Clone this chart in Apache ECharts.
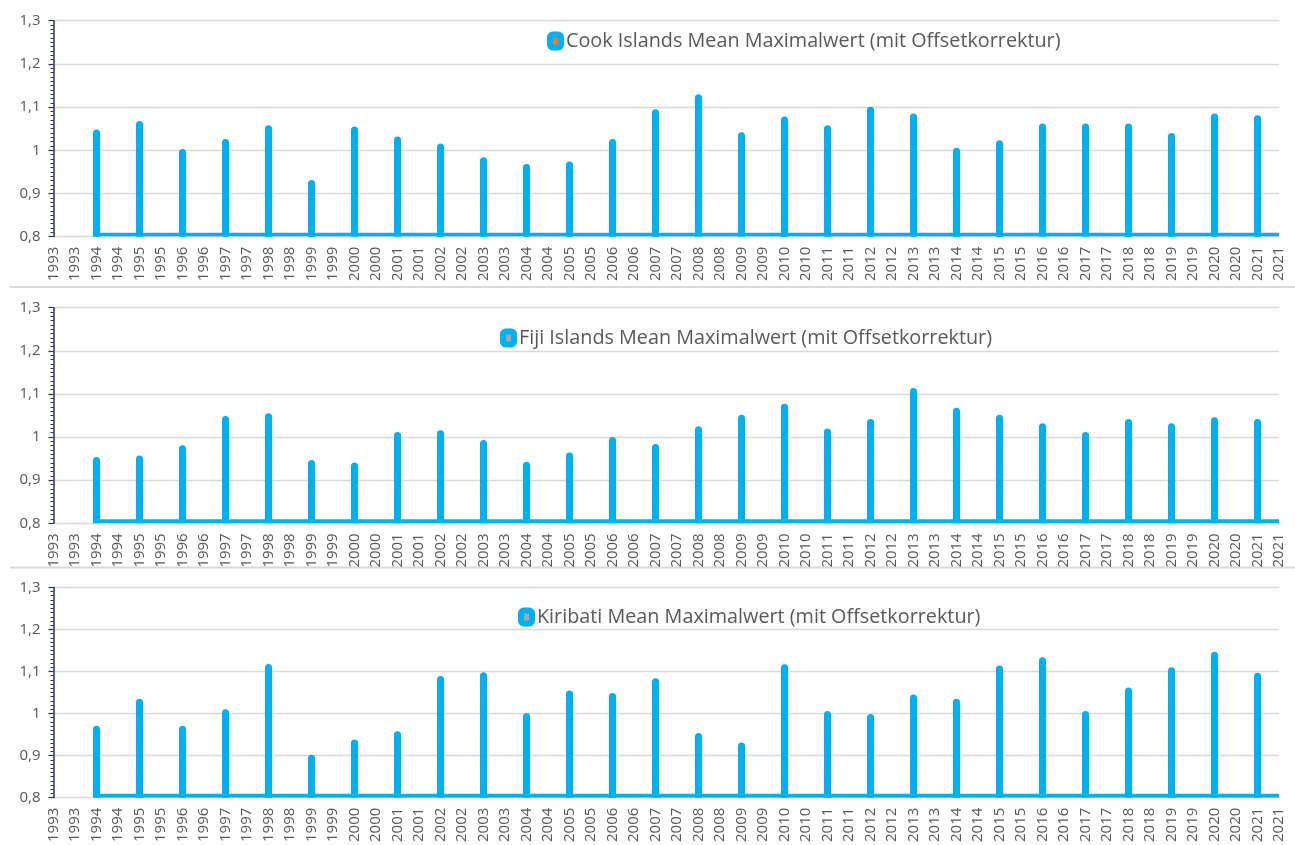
<!DOCTYPE html>
<html><head><meta charset="utf-8">
<script src="https://cdn.jsdelivr.net/npm/echarts@6/dist/echarts.min.js"></script>
<style>html,body{margin:0;padding:0;background:#fff}#c{width:1295px;height:845px}</style>
</head><body><div id="c"></div>
<script>
// x-axis tick labels (two per year, as in the source sheet)
const categories = ['1993','1993','1994','1994','1995','1995','1996','1996','1997','1997','1998','1998','1999','1999',
  '2000','2000','2001','2001','2002','2002','2003','2003','2004','2004','2005','2005','2006','2006','2007','2007',
  '2008','2008','2009','2009','2010','2010','2011','2011','2012','2012','2013','2013','2014','2014','2015','2015',
  '2016','2016','2017','2017','2018','2018','2019','2019','2020','2020','2021','2021'];
const years = [1994,1995,1996,1997,1998,1999,2000,2001,2002,2003,2004,2005,2006,2007,2008,2009,2010,2011,2012,2013,2014,2015,2016,2017,2018,2019,2020,2021];
const cookValues = [1.048,1.068,1.003,1.026,1.058,0.931,1.055,1.032,1.016,0.984,0.968,0.974,1.026,1.095,1.130,1.042,1.078,1.058,1.101,1.085,1.006,1.023,1.062,1.062,1.062,1.040,1.085,1.081];
const fijiValues = [0.954,0.957,0.981,1.049,1.055,0.947,0.941,1.012,1.016,0.993,0.943,0.964,1.000,0.984,1.025,1.052,1.077,1.020,1.042,1.114,1.068,1.052,1.032,1.012,1.042,1.032,1.046,1.042];
const kiribatiValues = [0.971,1.035,0.971,1.010,1.118,0.902,0.938,0.958,1.089,1.098,1.001,1.055,1.049,1.084,0.954,0.931,1.117,1.006,0.999,1.045,1.035,1.114,1.134,1.006,1.062,1.110,1.147,1.097];
const baselineValue = 0.805;
const seriesNames = ['Cook Islands Mean Maximalwert (mit Offsetkorrektur)','Fiji Islands Mean Maximalwert (mit Offsetkorrektur)','Kiribati Mean Maximalwert (mit Offsetkorrektur)'];
const panelValues = [cookValues, fijiValues, kiribatiValues];

const BLUE = '#00B0F0';
const markerCenter = ['#ED7D31', '#A6A6A6', '#A6A6A6'];
const gridTops = [20.7, 307.7, 587.3];
const gridH = [216, 215.6, 216];
const legendPos = [[547, 30], [500, 327], [518, 606]];

function spikeData(vals) {
  const d = categories.map(() => '-');
  years.forEach((y, i) => { d[categories.indexOf(String(y))] = vals[i]; });
  return d;
}
function baseData() {
  const start = categories.indexOf(String(years[0]));
  return categories.map((c, i) => i >= start ? baselineValue : '-');
}

const grids = [], xAxes = [], yAxes = [], series = [], legends = [];
for (let p = 0; p < 3; p++) {
  grids.push({ left: 53.5, right: 16, top: gridTops[p], height: gridH[p], containLabel: false });
  xAxes.push({
    type: 'category', gridIndex: p, data: categories, boundaryGap: false,
    axisLine: { show: false }, axisTick: { show: false }, splitLine: { show: false },
    axisLabel: { interval: 0, rotate: 90, color: '#595959', fontSize: 15, fontFamily: 'Open Sans', margin: 10,
      padding: [7, 0, 0, 0] }
  });
  yAxes.push({
    type: 'value', gridIndex: p, min: 0.8, max: 1.3, interval: 0.1,
    axisLine: { show: true, lineStyle: { color: '#24375E', width: 1.5 } },
    axisTick: { show: true, length: 5, lineStyle: { color: '#24375E', width: 1.2 } },
    minorTick: { show: true, splitNumber: 10, length: 3, lineStyle: { color: '#24375E', width: 1 } },
    splitLine: { show: true, lineStyle: { color: '#D9D9D9', width: 1.3 } },
    axisLabel: { color: '#595959', fontSize: 15, fontFamily: 'Open Sans', margin: 13,
      formatter: v => String(Math.round(v * 10) / 10).replace('.', ',') }
  });
  series.push({
    name: seriesNames[p] + ' baseline', type: 'line', xAxisIndex: p, yAxisIndex: p,
    data: baseData(), symbol: 'none', silent: true, z: 2,
    lineStyle: { color: BLUE, width: 3.6, cap: 'butt' }
  });
  series.push({
    name: seriesNames[p], type: 'bar', xAxisIndex: p, yAxisIndex: p,
    data: spikeData(panelValues[p]), barWidth: 7, z: 3,
    itemStyle: { color: BLUE, borderRadius: [3.5, 3.5, 0, 0] }
  });
  legends.push({
    data: [seriesNames[p]], left: legendPos[p][0], top: legendPos[p][1], padding: 0,
    selectedMode: false, icon: 'roundRect', itemWidth: 11, itemHeight: 13,
    itemStyle: { color: markerCenter[p], borderColor: BLUE, borderWidth: 6, borderJoin: 'round' },
    textStyle: { color: '#595959', fontSize: 19.8, fontFamily: 'Open Sans', lineHeight: 22 }
  });
}

const chart = echarts.init(document.getElementById('c'), null, { renderer: 'canvas' });
chart.setOption({
  animation: false,
  backgroundColor: '#fff',
  grid: grids, xAxis: xAxes, yAxis: yAxes, series: series, legend: legends,
  graphic: [
    { type: 'line', shape: { x1: 10, y1: 287, x2: 1295, y2: 287 }, style: { stroke: '#D9D9D9', lineWidth: 2 }, silent: true },
    { type: 'line', shape: { x1: 10, y1: 567.5, x2: 1295, y2: 567.5 }, style: { stroke: '#D9D9D9', lineWidth: 2 }, silent: true }
  ]
});
</script></body></html>
